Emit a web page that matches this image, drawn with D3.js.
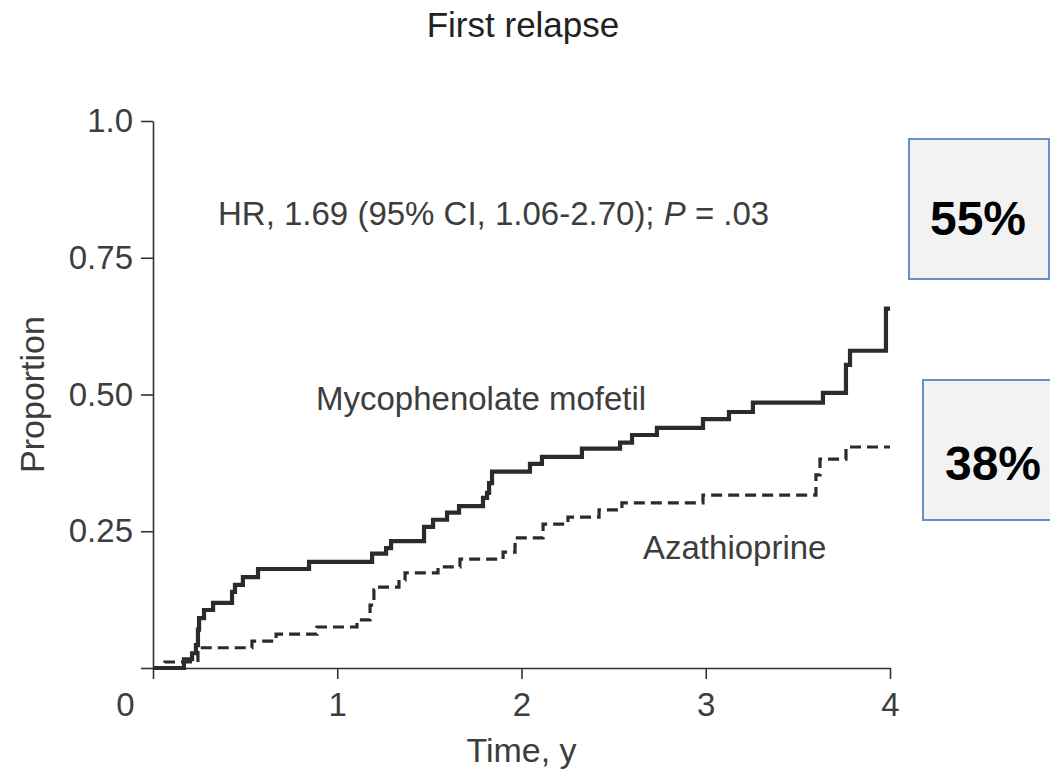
<!DOCTYPE html>
<html>
<head>
<meta charset="utf-8">
<script src="https://cdn.jsdelivr.net/npm/d3@7"></script>
<style>
  html, body { margin: 0; padding: 0; background: #fff; }
  svg { display: block; font-family: "Liberation Sans", Arial, Helvetica, sans-serif; }
</style>
</head>
<body>
<div id="chart"></div>
<script>
// ---- Data ----
const title = "First relapse";
const xTicks = [0, 1, 2, 3, 4];
const yTicks = [0, 0.25, 0.5, 0.75, 1.0];
const yTickLabels = ["", "0.25", "0.50", "0.75", "1.0"];
const xLabel = "Time, y";
const yLabel = "Proportion";

// Mycophenolate mofetil (solid) cumulative proportion, step-after
const mmfTime = [0, 0.168, 0.212, 0.233, 0.244, 0.250, 0.277, 0.326, 0.429, 0.445, 0.488, 0.570,
  0.847, 1.189, 1.265, 1.292, 1.471, 1.520, 1.596, 1.661, 1.791, 1.813, 1.824, 1.840,
  2.046, 2.111, 2.328, 2.535, 2.600, 2.735, 2.985, 3.126, 3.256, 3.636, 3.761, 3.783, 3.978, 4.0];
const mmfProp = [0, 0.016, 0.027, 0.042, 0.070, 0.091, 0.106, 0.119, 0.139, 0.152, 0.166, 0.181,
  0.194, 0.209, 0.219, 0.232, 0.258, 0.271, 0.284, 0.296, 0.311, 0.320, 0.338, 0.359,
  0.373, 0.386, 0.401, 0.412, 0.426, 0.439, 0.455, 0.468, 0.485, 0.503, 0.554, 0.580, 0.657, 0.657];

// Azathioprine (dashed)
const azaTime = [0, 0.065, 0.244, 0.537, 0.668, 0.890, 1.107, 1.178, 1.199, 1.216, 1.335, 1.368,
  1.547, 1.666, 1.900, 1.965, 2.117, 2.252, 2.421, 2.545, 2.985, 3.598, 3.620, 3.761, 4.0];
const azaProp = [0, 0.011, 0.037, 0.049, 0.062, 0.075, 0.088, 0.115, 0.143, 0.148, 0.161, 0.174,
  0.185, 0.199, 0.212, 0.238, 0.263, 0.276, 0.289, 0.302, 0.316, 0.353, 0.382, 0.404, 0.404];

const hrText = ["HR, 1.69 (95% CI, 1.06-2.70); ", "P", " = .03"];
const seriesLabels = ["Mycophenolate mofetil", "Azathioprine"];
const boxLabels = ["55%", "38%"];

// ---- Layout ----
const W = 1050, H = 774;
const m = { left: 153, right: 160, top: 121, bottom: 106 };
const svg = d3.select("#chart").append("svg").attr("width", W).attr("height", H);

const x = d3.scaleLinear().domain([0, 4]).range([m.left, W - m.right]);
const y = d3.scaleLinear().domain([0, 1]).range([H - m.bottom, m.top]);

const textCol = "#3d3d3d";
const lineCol = "#2b2b2b";

// Title
svg.append("text").attr("x", 523).attr("y", 37).attr("text-anchor", "middle")
  .attr("font-size", 35).attr("fill", "#222").text(title);

// Axes
const yAxis = d3.axisLeft(y).tickValues(yTicks).tickSize(12).tickSizeOuter(0).tickPadding(8)
  .tickFormat((d, i) => yTickLabels[i]);
const gy = svg.append("g").attr("transform", `translate(${m.left},0)`).call(yAxis);
gy.selectAll("text").attr("font-size", 33).attr("fill", textCol).attr("font-family", "Liberation Sans, Arial, sans-serif");

const xAxis = d3.axisBottom(x).tickValues(xTicks).tickSize(11).tickSizeOuter(0).tickPadding(14)
  .tickFormat(d3.format("d"));
const gx = svg.append("g").attr("transform", `translate(0,${y(0)})`).call(xAxis);
gx.selectAll("text").attr("font-size", 33).attr("fill", textCol).attr("font-family", "Liberation Sans, Arial, sans-serif");
gx.selectAll(".tick").filter(d => d === 0).select("text").attr("dx", -28);

[gx, gy].forEach(g => {
  g.selectAll("path.domain").attr("stroke", "#333").attr("stroke-width", 1.6);
  g.selectAll(".tick line").attr("stroke", "#333").attr("stroke-width", 1.6);
});

// Axis labels
svg.append("text").attr("x", x(2)).attr("y", 762).attr("text-anchor", "middle")
  .attr("font-size", 34).attr("fill", textCol).text(xLabel);
svg.append("text").attr("transform", `translate(44,${y(0.5)}) rotate(-90)`).attr("text-anchor", "middle")
  .attr("font-size", 34).attr("fill", textCol).text(yLabel);

// Curves
const line = d3.line().x(d => x(d[0])).y(d => y(d[1])).curve(d3.curveStepAfter);
const mmf = mmfTime.map((t, i) => [t, mmfProp[i]]);
const aza = azaTime.map((t, i) => [t, azaProp[i]]);

svg.append("path").datum(aza).attr("d", line).attr("fill", "none")
  .attr("stroke", lineCol).attr("stroke-width", 3.2).attr("stroke-dasharray", "11,6");
svg.append("path").datum(mmf).attr("d", line).attr("fill", "none")
  .attr("stroke", lineCol).attr("stroke-width", 4.2);

// Annotations
const hr = svg.append("text").attr("x", 218).attr("y", 225).attr("font-size", 33).attr("fill", textCol);
hr.append("tspan").text(hrText[0]);
hr.append("tspan").attr("font-style", "italic").text(hrText[1]);
hr.append("tspan").text(hrText[2]);

svg.append("text").attr("x", 316).attr("y", 410).attr("font-size", 33).attr("fill", textCol).text(seriesLabels[0]);
svg.append("text").attr("x", 643).attr("y", 559).attr("font-size", 33).attr("fill", textCol).text(seriesLabels[1]);

// Percent boxes
const boxes = [
  { x: 909, y: 139, w: 140, h: 140, cx: 978, cy: 235, label: boxLabels[0] },
  { x: 923, y: 380, w: 140, h: 140, cx: 993, cy: 480, label: boxLabels[1] }
];
boxes.forEach(b => {
  svg.append("rect").attr("x", b.x).attr("y", b.y).attr("width", b.w).attr("height", b.h)
    .attr("fill", "#f2f2f2").attr("stroke", "#6a8fc8").attr("stroke-width", 2);
  svg.append("text").attr("x", b.cx).attr("y", b.cy).attr("text-anchor", "middle")
    .attr("font-size", 48).attr("font-weight", "bold").attr("fill", "#000").text(b.label);
});
</script>
</body>
</html>
